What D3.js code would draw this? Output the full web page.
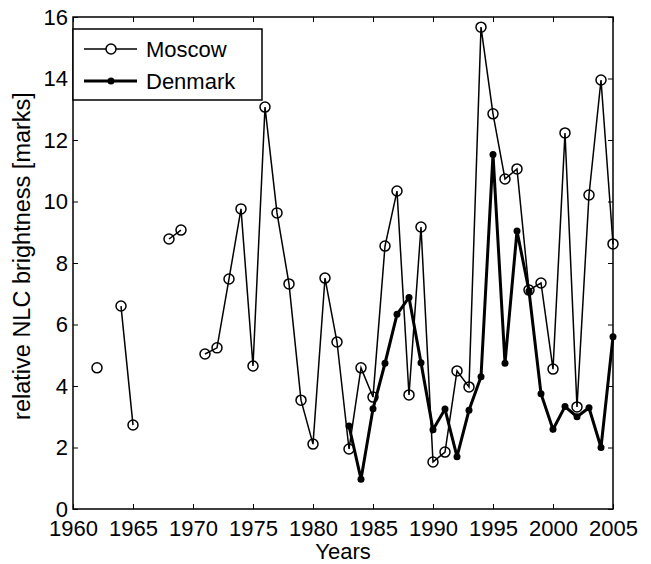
<!DOCTYPE html>
<html>
<head>
<meta charset="utf-8">
<script src="https://cdn.jsdelivr.net/npm/d3@7"></script>
<style>
  body { margin: 0; background: #fff; }
  text { font-family: "Liberation Sans", Arial, sans-serif; fill: #000; }
</style>
</head>
<body>
<div id="chart"></div>
<script>
var width = 651,
    height = 564;

var moscowYears = [1962, 1963, 1964, 1965, 1966, 1967, 1968, 1969, 1970, 1971, 1972, 1973, 1974,
    1975, 1976, 1977, 1978, 1979, 1980, 1981, 1982, 1983, 1984, 1985, 1986, 1987, 1988, 1989,
    1990, 1991, 1992, 1993, 1994, 1995, 1996, 1997, 1998, 1999, 2000, 2001, 2002, 2003, 2004, 2005];
var moscowValues = [4.59, null, 6.6, 2.73, null, null, 8.78, 9.07, null, 5.04, 5.24, 7.48, 9.76,
    4.65, 13.07, 9.63, 7.32, 3.54, 2.11, 7.51, 5.43, 1.95, 4.59, 3.64, 8.55, 10.34, 3.71, 9.17,
    1.53, 1.85, 4.49, 3.97, 15.67, 12.85, 10.73, 11.06, 7.12, 7.35, 4.55, 12.23, 3.32, 10.21, 13.95, 8.62];
var denmarkYears = [1983, 1984, 1985, 1986, 1987, 1988, 1989, 1990, 1991, 1992, 1993, 1994,
    1995, 1996, 1997, 1998, 1999, 2000, 2001, 2002, 2003, 2004, 2005];
var denmarkValues = [2.7, 0.97, 3.26, 4.74, 6.33, 6.88, 4.76, 2.58, 3.25, 1.7, 3.21, 4.3,
    11.53, 4.74, 9.04, 7.09, 3.75, 2.59, 3.33, 3.0, 3.29, 2.0, 5.6];
var xTicks = [1960, 1965, 1970, 1975, 1980, 1985, 1990, 1995, 2000, 2005];
var yTicks = [0, 2, 4, 6, 8, 10, 12, 14, 16];

var margin = {left: 73, right: 38, top: 17, bottom: 55};
var fontSize = "22px";

var svg = d3.select("#chart")
    .append("svg")
    .attr("width", width)
    .attr("height", height);

var x = d3.scaleLinear()
    .domain([1960, 2005])
    .range([margin.left, width - margin.right]);

var y = d3.scaleLinear()
    .domain([0, 16])
    .range([height - margin.bottom, margin.top]);

var moscow = moscowYears.map(function (yr, i) { return {year: yr, value: moscowValues[i]}; });
var denmark = denmarkYears.map(function (yr, i) { return {year: yr, value: denmarkValues[i]}; });

var line = d3.line()
    .defined(function (d) { return d.value !== null; })
    .x(function (d) { return x(d.year); })
    .y(function (d) { return y(d.value); });

// axes, ticks pointing inward like matlab
var tickLen = 5;
svg.append("g")
    .attr("transform", "translate(0," + y(0) + ")")
    .call(d3.axisBottom(x).tickValues(xTicks).tickFormat(d3.format("d"))
        .tickSizeInner(-tickLen).tickSizeOuter(0).tickPadding(11))
    .call(function (g) { g.select(".domain").remove(); })
    .selectAll("text").style("font-size", fontSize);

svg.append("g")
    .attr("transform", "translate(" + x(1960) + ",0)")
    .call(d3.axisLeft(y).tickValues(yTicks).tickSizeInner(-tickLen).tickSizeOuter(0).tickPadding(5))
    .call(function (g) { g.select(".domain").remove(); })
    .selectAll("text").style("font-size", fontSize);

// ticks on top and right
svg.append("g")
    .attr("transform", "translate(0," + y(16) + ")")
    .call(d3.axisTop(x).tickValues(xTicks).tickSizeInner(-tickLen).tickSizeOuter(0).tickFormat(""))
    .call(function (g) { g.select(".domain").remove(); });

svg.append("g")
    .attr("transform", "translate(" + x(2005) + ",0)")
    .call(d3.axisRight(y).tickValues(yTicks).tickSizeInner(-tickLen).tickSizeOuter(0).tickFormat(""))
    .call(function (g) { g.select(".domain").remove(); });

svg.append("rect")
    .attr("x", x(1960))
    .attr("y", y(16))
    .attr("width", x(2005) - x(1960))
    .attr("height", y(0) - y(16))
    .attr("fill", "none")
    .attr("stroke", "#000")
    .attr("stroke-width", 1.5);

// Moscow
svg.append("path")
    .datum(moscow)
    .attr("d", line)
    .attr("fill", "none")
    .attr("stroke", "#000")
    .attr("stroke-width", 1.5);

svg.selectAll(".mdot")
    .data(moscow.filter(function (d) { return d.value !== null; }))
    .enter()
    .append("circle")
    .attr("class", "mdot")
    .attr("cx", function (d) { return x(d.year); })
    .attr("cy", function (d) { return y(d.value); })
    .attr("r", 5)
    .attr("fill", "none")
    .attr("stroke", "#000")
    .attr("stroke-width", 1.5);

// Denmark
svg.append("path")
    .datum(denmark)
    .attr("d", line)
    .attr("fill", "none")
    .attr("stroke", "#000")
    .attr("stroke-width", 3);

svg.selectAll(".ddot")
    .data(denmark)
    .enter()
    .append("circle")
    .attr("class", "ddot")
    .attr("cx", function (d) { return x(d.year); })
    .attr("cy", function (d) { return y(d.value); })
    .attr("r", 3.5)
    .attr("fill", "#000");

// axis labels
svg.append("text")
    .attr("x", (x(1960) + x(2005)) / 2)
    .attr("y", 559)
    .attr("text-anchor", "middle")
    .style("font-size", fontSize)
    .text("Years");

svg.append("text")
    .attr("transform", "translate(30,256) rotate(-90)")
    .attr("text-anchor", "middle")
    .style("font-size", "23.5px")
    .text("relative NLC brightness [marks]");

// legend
var legend = svg.append("g");
legend.append("rect")
    .attr("x", 73)
    .attr("y", 29)
    .attr("width", 189)
    .attr("height", 71)
    .attr("fill", "#fff")
    .attr("stroke", "#000")
    .attr("stroke-width", 1.5);

legend.append("line")
    .attr("x1", 84).attr("x2", 137)
    .attr("y1", 49).attr("y2", 49)
    .attr("stroke", "#000").attr("stroke-width", 1.5);
legend.append("circle")
    .attr("cx", 111).attr("cy", 49).attr("r", 5)
    .attr("fill", "#fff").attr("stroke", "#000").attr("stroke-width", 1.5);
legend.append("text")
    .attr("x", 146).attr("y", 57)
    .style("font-size", fontSize)
    .text("Moscow");

legend.append("line")
    .attr("x1", 84).attr("x2", 137)
    .attr("y1", 81).attr("y2", 81)
    .attr("stroke", "#000").attr("stroke-width", 3);
legend.append("circle")
    .attr("cx", 111).attr("cy", 81).attr("r", 3.5)
    .attr("fill", "#000");
legend.append("text")
    .attr("x", 146).attr("y", 89)
    .style("font-size", fontSize)
    .text("Denmark");
</script>
</body>
</html>
